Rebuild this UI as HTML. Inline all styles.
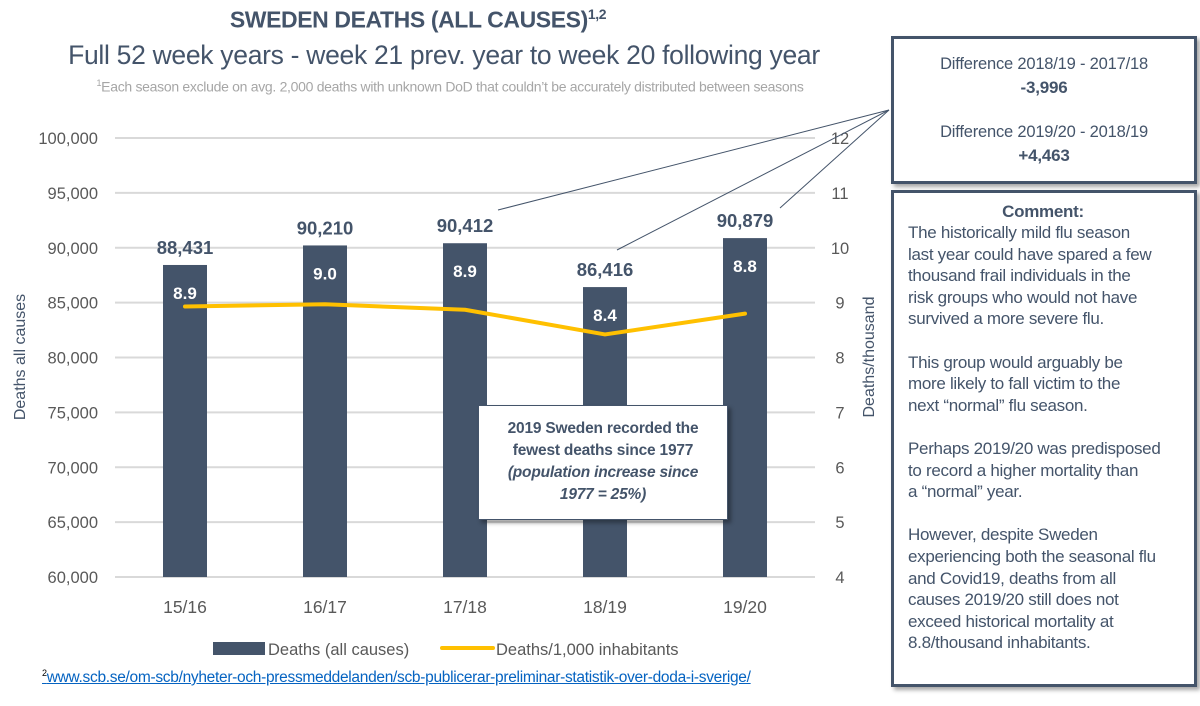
<!DOCTYPE html>
<html><head><meta charset="utf-8"><style>
body{margin:0;width:1200px;height:706px;background:#fff;font-family:"Liberation Sans",sans-serif;color:#44546a;position:relative;overflow:hidden}
.abs{position:absolute}
.box{position:absolute;border:3px solid #44546a;background:#fff;box-shadow:3px 3px 4px rgba(0,0,0,0.35);box-sizing:border-box}
</style></head><body>
<div class="abs" style="left:0;width:836px;top:6px;text-align:center;font-size:23px;font-weight:bold;letter-spacing:-0.4px">SWEDEN DEATHS (ALL CAUSES)<sup style="font-size:14px">1,2</sup></div>
<div class="abs" style="left:0;width:888px;top:40px;text-align:center;font-size:26.5px;letter-spacing:-0.3px">Full 52 week years - week 21 prev. year to week 20 following year</div>
<div class="abs" style="left:0;width:900px;top:78px;text-align:center;font-size:14px;color:#a6a6a6;letter-spacing:-0.3px"><sup style="font-size:9px">1</sup>Each season exclude on avg. 2,000 deaths with unknown DoD that couldn’t be accurately distributed between seasons</div>

<svg class="abs" style="left:0;top:0" width="1200" height="706">
<g id="grid"></g><g id="bars"></g><g id="line"></g><g id="labels"></g>
<line x1="889" y1="110" x2="498" y2="210" stroke="#44546a" stroke-width="1"/>
<line x1="889" y1="110" x2="617" y2="250" stroke="#44546a" stroke-width="1"/>
<line x1="889" y1="110" x2="780" y2="208" stroke="#44546a" stroke-width="1"/>
<text x="25" y="357" transform="rotate(-90 25 357)" text-anchor="middle" font-size="16" fill="#44546a">Deaths all causes</text>
<text x="874" y="357" transform="rotate(-90 874 357)" text-anchor="middle" font-size="16" fill="#44546a">Deaths/thousand</text>
<rect x="213" y="642" width="52" height="13" fill="#44546a"/>
<text x="268" y="655" font-size="16.5" fill="#595959">Deaths (all causes)</text>
<line x1="442" y1="648" x2="493" y2="648" stroke="#ffc000" stroke-width="4" stroke-linecap="round"/>
<text x="496" y="655" font-size="16.5" fill="#595959">Deaths/1,000 inhabitants</text>
</svg>

<div class="abs" style="left:42px;top:668px;font-size:15.5px;color:#0563c1;text-decoration:underline;letter-spacing:-0.3px"><sup style="font-size:9px;color:#000;text-decoration:none">2</sup>www.scb.se/om-scb/nyheter-och-pressmeddelanden/scb-publicerar-preliminar-statistik-over-doda-i-sverige/</div>

<div class="box" style="left:478px;top:405px;width:250px;height:115px;border-width:1px;border-color:#44546a;text-align:center;font-size:15.5px;font-weight:bold;padding-top:12px;line-height:22px;white-space:nowrap;letter-spacing:-0.2px">2019 Sweden recorded the<br>fewest deaths since 1977<br><i>(population increase since<br>1977 = 25%)</i></div>

<div class="box" style="left:891px;top:36px;width:306px;height:148px;text-align:center;font-size:16.5px;line-height:23px;padding-top:14px;letter-spacing:-0.2px">Difference 2018/19 - 2017/18<br><b style="font-size:17px">-3,996</b><br><div style="height:21px"></div>Difference 2019/20 - 2018/19<br><b style="font-size:17px">+4,463</b></div>

<div class="box" style="left:891px;top:190px;width:306px;height:497px;font-size:17px;line-height:21.6px;padding:9px 8px 0 14px;letter-spacing:-0.3px;white-space:nowrap"><div style="text-align:center;font-weight:bold;line-height:20px;padding-right:8px">Comment:</div>The historically mild flu season<br>last year could have spared a few<br>thousand frail individuals in the<br>risk groups who would not have<br>survived a more severe flu.<br><br>This group would arguably be<br>more likely to fall victim to the<br>next “normal” flu season.<br><br>Perhaps 2019/20 was predisposed<br>to record a higher mortality than<br>a “normal” year.<br><br>However, despite Sweden<br>experiencing both the seasonal flu<br>and Covid19, deaths from all<br>causes 2019/20 still does not<br>exceed historical mortality at<br>8.8/thousand inhabitants.</div>

<script>
const categories=["15/16","16/17","17/18","18/19","19/20"];
const deaths=[88431,90210,90412,86416,90879];
const rates=[8.93,8.97,8.87,8.42,8.8];
const rateLabels=["8.9","9.0","8.9","8.4","8.8"];
const leftTicks=[60000,65000,70000,75000,80000,85000,90000,95000,100000];
const rightTicks=[4,5,6,7,8,9,10,11,12];
const NS="http://www.w3.org/2000/svg";
const x0=115,x1=815,yTop=138,yBot=577;
const yL=v=>yBot-(v-60000)/40000*(yBot-yTop);
const yR=v=>yBot-(v-4)/8*(yBot-yTop);
const step=(x1-x0)/categories.length;
const xc=i=>x0+step*(i+0.5);
function mk(tag,attrs,parent,txt){const e=document.createElementNS(NS,tag);for(const k in attrs)e.setAttribute(k,attrs[k]);if(txt!=null)e.textContent=txt;document.getElementById(parent).appendChild(e);return e;}
leftTicks.forEach(t=>{
 const l=mk('line',{x1:x0,x2:x1,y1:yL(t),y2:yL(t),stroke:'#d9d9d9','stroke-width':2},'grid');
 
 
 const tx=mk('text',{x:98,y:yL(t)+6,'text-anchor':'end','font-size':16.5,fill:'#595959'},'grid',t.toLocaleString('en-US'));
 
 
});
rightTicks.forEach(t=>{
 const tx=mk('text',{x:840,y:yR(t)+6,'text-anchor':'middle','font-size':16.5,fill:'#595959'},'grid',String(t));
 
 
});
categories.forEach((c,i)=>{
 const tx=mk('text',{x:xc(i),y:613,'text-anchor':'middle','font-size':17.5,fill:'#595959'},'labels',c);
 
 
 const b=mk('rect',{x:xc(i)-22,y:yL(deaths[i]),width:44,height:yBot-yL(deaths[i]),fill:'#44546a'},'bars');
 
 
 const v=mk('text',{x:xc(i),y:yL(deaths[i])-11,'text-anchor':'middle','font-size':18.5,'font-weight':'bold',fill:'#44546a'},'labels',deaths[i].toLocaleString('en-US'));
 
 
 const r=mk('text',{x:xc(i),y:yL(deaths[i])+34,'text-anchor':'middle','font-size':17,'font-weight':'bold',fill:'#fff'},'labels',rateLabels[i]);
 
 
});
const pl=mk('polyline',{points:rates.map((r,i)=>xc(i)+','+yR(r)).join(' '),fill:'none',stroke:'#ffc000','stroke-width':4,'stroke-linejoin':'round','stroke-linecap':'round'},'line');


</script>
</body></html>
